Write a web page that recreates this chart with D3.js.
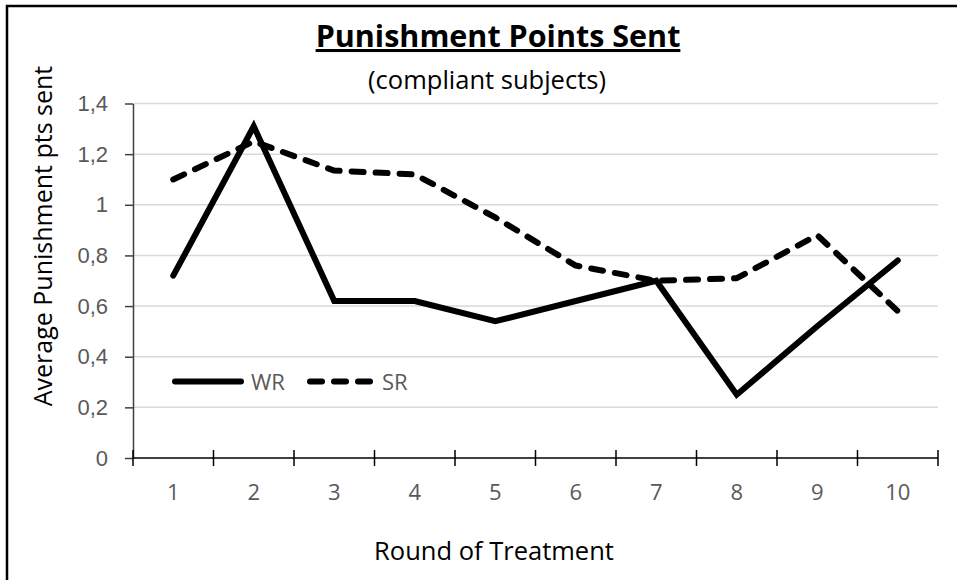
<!DOCTYPE html>
<html>
<head>
<meta charset="utf-8">
<script src="https://cdn.jsdelivr.net/npm/d3@7"></script>
<style>
  html, body { margin: 0; padding: 0; background: #fff; }
  svg { display: block; font-family: "Open Sans", "Noto Sans", sans-serif; }
</style>
</head>
<body>
<div id="chart"></div>
<script>
// Punishment points sent by compliant subjects, per round, two treatments.
const rounds = [1, 2, 3, 4, 5, 6, 7, 8, 9, 10];
const wrValues = [0.72, 1.31, 0.62, 0.62, 0.54, 0.62, 0.70, 0.25, 0.52, 0.78];
const srValues = [1.10, 1.25, 1.135, 1.12, 0.95, 0.76, 0.70, 0.71, 0.88, 0.58];
const yTicks = [0, 0.2, 0.4, 0.6, 0.8, 1.0, 1.2, 1.4];
const seriesNames = ["WR", "SR"];

const W = 957, H = 580;
const plot = { left: 133, right: 938, top: 103.5, bottom: 458 };

const svg = d3.select("#chart").append("svg")
    .attr("width", W).attr("height", H)
    .attr("viewBox", `0 0 ${W} ${H}`);

// Outer frame (right and bottom edges fall outside the picture)
svg.append("rect")
    .attr("x", 7).attr("y", 6)
    .attr("width", W + 10).attr("height", H + 10)
    .attr("fill", "none")
    .attr("stroke", "#000")
    .attr("stroke-width", 2.5);

const x = d3.scaleBand().domain(rounds).range([plot.left, plot.right]).padding(0);
const y = d3.scaleLinear().domain([0, 1.4]).range([plot.bottom, plot.top]);

const fmt = d3.formatLocale({
    decimal: ",", thousands: ".", grouping: [3], currency: ["", ""],
}).format(".1~f");

// Gridlines
svg.append("g")
    .selectAll("line")
    .data(yTicks.filter((v) => v > 0))
    .join("line")
    .attr("x1", plot.left).attr("x2", plot.right)
    .attr("y1", (d) => y(d)).attr("y2", (d) => y(d))
    .attr("stroke", "#d9d9d9")
    .attr("stroke-width", 1.5);

// Y axis
const yAxis = svg.append("g")
    .attr("transform", `translate(${plot.left},0)`)
    .call(
        d3.axisLeft(y)
            .tickValues(yTicks)
            .tickFormat(fmt)
            .tickSize(8)
            .tickSizeOuter(0)
            .tickPadding(17),
    );
yAxis.select(".domain").attr("stroke", "#404040").attr("stroke-width", 1.5);
yAxis.selectAll(".tick line").attr("stroke", "#404040").attr("stroke-width", 1.5);
yAxis.selectAll(".tick text")
    .attr("fill", "#595959")
    .style("font-size", "22px");

// X axis: tick marks cross the axis at the category boundaries
const boundaries = rounds.map((r) => x(r)).concat([x(rounds[rounds.length - 1]) + x.bandwidth()]);
const xAxis = svg.append("g");
xAxis.append("line")
    .attr("x1", plot.left).attr("x2", plot.right)
    .attr("y1", plot.bottom).attr("y2", plot.bottom)
    .attr("stroke", "#000").attr("stroke-width", 1.5);
xAxis.selectAll("line.tick")
    .data(boundaries)
    .join("line")
    .attr("class", "tick")
    .attr("x1", (d) => d).attr("x2", (d) => d)
    .attr("y1", plot.bottom - 8).attr("y2", plot.bottom + 8)
    .attr("stroke", "#000").attr("stroke-width", 1.5);
xAxis.selectAll("text")
    .data(rounds)
    .join("text")
    .attr("x", (d) => x(d) + x.bandwidth() / 2)
    .attr("y", 500)
    .attr("text-anchor", "middle")
    .attr("fill", "#595959")
    .style("font-size", "22px")
    .text((d) => d);

// Lines
const line = d3.line()
    .x((d, i) => x(rounds[i]) + x.bandwidth() / 2)
    .y((d) => y(d));

svg.append("path")
    .datum(srValues)
    .attr("d", line)
    .attr("fill", "none")
    .attr("stroke", "#000")
    .attr("stroke-width", 6)
    .attr("stroke-dasharray", "12,12")
    .attr("stroke-linecap", "round")
    .attr("stroke-linejoin", "round");

svg.append("path")
    .datum(wrValues)
    .attr("d", line)
    .attr("fill", "none")
    .attr("stroke", "#000")
    .attr("stroke-width", 6)
    .attr("stroke-linecap", "round")
    .attr("stroke-linejoin", "miter");

// Legend
const legendY = 381.5;
const legend = svg.append("g");
legend.append("line")
    .attr("x1", 175).attr("x2", 241)
    .attr("y1", legendY).attr("y2", legendY)
    .attr("stroke", "#000").attr("stroke-width", 6)
    .attr("stroke-linecap", "round");
legend.append("text")
    .attr("x", 251).attr("y", legendY + 8)
    .attr("fill", "#595959")
    .style("font-size", "22px")
    .text(seriesNames[0]);
legend.append("line")
    .attr("x1", 310).attr("x2", 370)
    .attr("y1", legendY).attr("y2", legendY)
    .attr("stroke", "#000").attr("stroke-width", 6)
    .attr("stroke-dasharray", "12,12")
    .attr("stroke-linecap", "round");
legend.append("text")
    .attr("x", 382).attr("y", legendY + 8)
    .attr("fill", "#595959")
    .style("font-size", "22px")
    .text(seriesNames[1]);

// Titles
svg.append("text")
    .attr("x", 498).attr("y", 47)
    .attr("text-anchor", "middle")
    .attr("fill", "#000")
    .style("font-size", "30.5px")
    .style("font-weight", "bold")
    .style("text-decoration", "underline")
    .text("Punishment Points Sent");

svg.append("text")
    .attr("x", 487).attr("y", 89)
    .attr("text-anchor", "middle")
    .attr("fill", "#000")
    .style("font-size", "25.5px")
    .text("(compliant subjects)");

svg.append("text")
    .attr("x", 494).attr("y", 560)
    .attr("text-anchor", "middle")
    .attr("fill", "#000")
    .style("font-size", "25.5px")
    .text("Round of Treatment");

svg.append("text")
    .attr("transform", "translate(52,236) rotate(-90)")
    .attr("text-anchor", "middle")
    .attr("fill", "#000")
    .style("font-size", "25px")
    .text("Average Punishment pts sent");
</script>
</body>
</html>
